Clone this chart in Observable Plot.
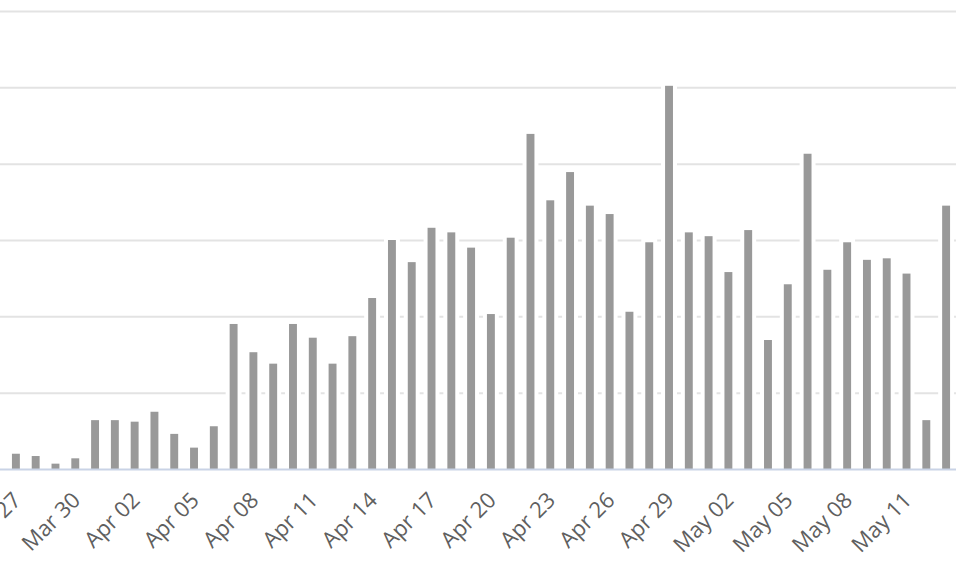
<!DOCTYPE html>
<html>
<head>
<meta charset="utf-8">
<script src="https://cdn.jsdelivr.net/npm/d3@7"></script>
<script src="https://cdn.jsdelivr.net/npm/@observablehq/plot@0.6"></script>
<style>
  html, body { margin: 0; padding: 0; background: #fff; }
  #chart { width: 972px; height: 572px; overflow: hidden; }
</style>
</head>
<body>
<div id="chart"></div>
<script>
const days = [
  "Mar 27","Mar 28","Mar 29","Mar 30","Mar 31","Apr 01","Apr 02","Apr 03","Apr 04","Apr 05",
  "Apr 06","Apr 07","Apr 08","Apr 09","Apr 10","Apr 11","Apr 12","Apr 13","Apr 14","Apr 15",
  "Apr 16","Apr 17","Apr 18","Apr 19","Apr 20","Apr 21","Apr 22","Apr 23","Apr 24","Apr 25",
  "Apr 26","Apr 27","Apr 28","Apr 29","Apr 30","May 01","May 02","May 03","May 04","May 05",
  "May 06","May 07","May 08","May 09","May 10","May 11","May 12","May 13"
];
const values = [
  20, 17, 7, 14, 64, 64, 62, 75, 46, 28,
  56, 190, 153, 138, 190, 172, 138, 174, 224, 300,
  271, 316, 310, 290, 203, 303, 439, 352, 389, 345,
  334, 206, 297, 502, 310, 305, 258, 313, 169, 242,
  413, 261, 297, 274, 276, 256, 64, 345
];
const tickLabels = ["Mar 27","Mar 30","Apr 02","Apr 05","Apr 08","Apr 11","Apr 14","Apr 17","Apr 20","Apr 23","Apr 26","Apr 29","May 02","May 05","May 08","May 11"];
const gridValues = [100, 200, 300, 400, 500, 600];

const data = days.map((d, i) => ({day: d, value: values[i]}));

const chart = Plot.plot({
  width: 972,
  height: 572,
  marginTop: 11,
  marginBottom: 103,
  marginLeft: 0,
  marginRight: 16,
  style: {fontFamily: "'Open Sans', sans-serif", background: "#fff", overflow: "visible"},
  x: {type: "band", domain: days, range: [6, 956], paddingInner: 0.6, paddingOuter: 0.3, axis: null, label: null},
  y: {domain: [0, 600], axis: null, label: null},
  marks: [
    Plot.ruleY(gridValues, {stroke: "#e3e3e3", strokeWidth: 2}),
    Plot.barY(data, {x: "day", y: "value", fill: "#999999", stroke: "#ffffff", strokeWidth: 4,
      insetLeft: -2, insetRight: -2, insetTop: -2, insetBottom: -2}),
    Plot.ruleY([0], {stroke: "#c9d3e6", strokeWidth: 2}),
    Plot.axisX(tickLabels, {tickRotate: -45, tickSize: 0, tickPadding: 27, dx: 1, fontSize: 22, color: "#5f5f5f", label: null})
  ]
});
document.getElementById("chart").appendChild(chart);
</script>
</body>
</html>
